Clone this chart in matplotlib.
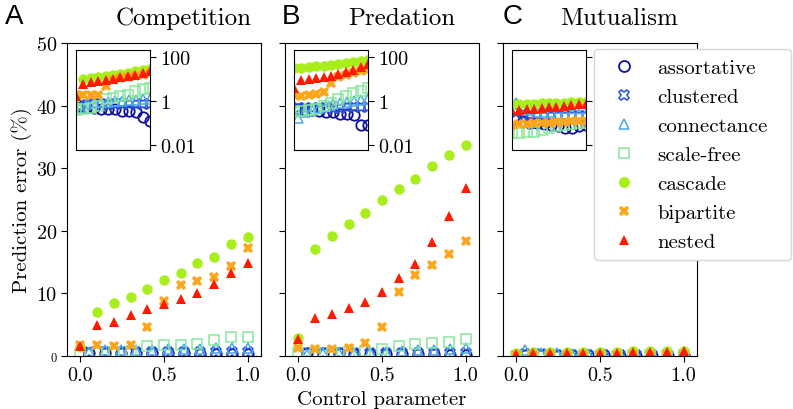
import matplotlib
matplotlib.use('Agg')
import matplotlib.pyplot as plt
from matplotlib.ticker import FixedLocator, FixedFormatter, NullLocator

plt.rcParams['font.family'] = 'cmr10'
plt.rcParams['mathtext.fontset'] = 'cm'
plt.rcParams['axes.formatter.use_mathtext'] = True

# control parameter values
x_grid = [0.0, 0.1, 0.2, 0.3, 0.4, 0.5, 0.6, 0.7, 0.8, 0.9, 1.0]
x_shift = [0.05, 0.145, 0.24, 0.335, 0.43, 0.525, 0.62, 0.715, 0.81, 0.905, 1.0]

panels = ['A', 'B', 'C']
titles = ['Competition', 'Predation', 'Mutualism']
models = ['assortative', 'clustered', 'connectance', 'scale-free',
          'cascade', 'bipartite', 'nested']

# main panels: prediction error (%), one list per panel (A, B, C)
assortative = [[0.5, 0.5, 0.45, 0.45, 0.4, 0.4, 0.4, 0.35, 0.35, 0.3, 0.25],
               [0.45, 0.4, 0.4, 0.35, 0.35, 0.3, 0.3, 0.25, 0.25, 0.1, 0.1],
               [0.15, 0.12, 0.1, 0.1, 0.09, 0.08, 0.07, 0.06, 0.06, 0.07, 0.08]]
clustered = [[0.7, 0.7, 0.7, 0.7, 0.65, 0.7, 0.7, 0.7, 0.7, 0.7, 0.7],
             [0.5, 0.5, 0.5, 0.5, 0.5, 0.5, 0.5, 0.5, 0.5, 0.5, 0.5],
             [0.3, 0.25, 0.22, 0.2, 0.2, 0.2, 0.2, 0.2, 0.2, 0.2, 0.2]]
connectance = [[0.6, 0.9, 0.9, 1.0, 1.0, 1.1, 1.1, 1.1, 1.2, 1.2, 1.3],
               [0.3, 0.4, 0.5, 0.5, 0.6, 0.7, 0.8, 0.9, 1.0, 1.1, 1.2],
               [1.0, 0.5, 0.4, 0.3, 0.3, 0.3, 0.25, 0.25, 0.25, 0.25, 0.25]]
scale_free = [[0.3, 0.5, 0.6, 0.8, 1.6, 1.7, 1.7, 1.9, 2.6, 3.1, 3.1],
              [0.4, 0.5, 0.5, 0.6, 0.8, 1.1, 1.6, 1.9, 2.1, 2.3, 2.7],
              [0.04, 0.04, 0.04, 0.04, 0.05, 0.06, 0.07, 0.08, 0.09, 0.1, 0.1]]
cascade = [[1.5, 7.0, 8.4, 9.4, 10.7, 12.1, 13.3, 14.8, 15.8, 17.9, 19.0],
           [2.8, 17.1, 19.2, 21.1, 22.9, 25.0, 26.7, 28.3, 30.4, 32.1, 33.7],
           [0.55, 0.6, 0.6, 0.65, 0.65, 0.7, 0.7, 0.75, 0.75, 0.8, 0.85]]
bipartite = [[1.7, 1.7, 1.6, 1.7, 4.7, 8.8, 11.3, 12.0, 12.6, 14.4, 17.3],
             [1.3, 1.1, 1.1, 1.3, 2.0, 4.7, 10.2, 12.9, 14.5, 16.3, 18.4],
             [0.1, 0.1, 0.1, 0.1, 0.1, 0.1, 0.11, 0.11, 0.12, 0.12, 0.12]]
nested = [[1.6, 4.9, 5.4, 6.6, 7.5, 8.3, 9.1, 10.0, 11.5, 13.2, 14.9],
          [2.7, 6.0, 6.7, 7.6, 8.6, 10.2, 12.5, 14.7, 18.2, 22.3, 26.8],
          [0.35, 0.4, 0.42, 0.45, 0.5, 0.52, 0.55, 0.6, 0.65, 0.7, 0.75]]

# insets (log scale), read separately
assortative_log = [[0.6, 0.55, 0.5, 0.42, 0.45, 0.42, 0.35, 0.35, 0.33, 0.18, 0.12],
                   [0.42, 0.4, 0.38, 0.36, 0.33, 0.3, 0.26, 0.25, 0.22, 0.08, 0.08],
                   [0.15, 0.12, 0.1, 0.1, 0.09, 0.08, 0.07, 0.06, 0.06, 0.07, 0.08]]
clustered_log = [[0.6, 0.65, 0.7, 0.7, 0.65, 0.7, 0.7, 0.7, 0.7, 0.7, 0.7],
                 [0.5, 0.5, 0.5, 0.5, 0.5, 0.5, 0.5, 0.55, 0.55, 0.55, 0.55],
                 [0.3, 0.25, 0.22, 0.2, 0.2, 0.2, 0.2, 0.2, 0.2, 0.2, 0.2]]
connectance_log = [[0.5, 0.7, 0.8, 0.9, 0.9, 1.0, 1.0, 1.1, 1.1, 1.2, 1.2],
                   [0.17, 0.3, 0.4, 0.5, 0.6, 0.7, 0.8, 0.9, 1.0, 1.1, 1.2],
                   [0.8, 0.5, 0.4, 0.3, 0.3, 0.3, 0.25, 0.25, 0.25, 0.25, 0.25]]
scale_free_log = [[0.4, 0.45, 0.5, 0.6, 1.2, 1.4, 1.6, 1.9, 2.8, 3.5, 4.0],
                  [0.3, 0.35, 0.4, 0.45, 0.6, 0.8, 1.2, 1.7, 2.3, 2.8, 3.8],
                  [0.035, 0.035, 0.04, 0.04, 0.05, 0.06, 0.07, 0.08, 0.09, 0.1, 0.1]]
cascade_log = [[1.5, 9.6, 10.8, 12.0, 13.5, 15.0, 17.0, 19.0, 21.5, 25.0, 28.5],
               [30.0, 32.0, 34.0, 36.0, 38.0, 41.0, 45.0, 50.0, 56.0, 63.0, 72.0],
               [0.7, 0.72, 0.74, 0.75, 0.77, 0.8, 0.8, 0.83, 0.85, 0.88, 0.9]]
bipartite_log = [[1.8, 1.8, 1.8, 1.9, 4.8, 9.0, 11.0, 12.0, 13.0, 15.0, 18.0],
                 [1.8, 1.7, 1.8, 2.1, 2.6, 6.3, 12.0, 15.0, 18.0, 22.0, 26.0],
                 [0.08, 0.09, 0.09, 0.1, 0.1, 0.1, 0.11, 0.11, 0.12, 0.12, 0.12]]
nested_log = [[1.7, 6.0, 6.8, 8.0, 9.0, 10.0, 11.5, 13.0, 15.0, 18.0, 22.0],
              [3.7, 9.0, 10.0, 11.0, 12.5, 14.0, 17.0, 21.0, 26.0, 33.0, 45.0],
              [0.35, 0.4, 0.42, 0.45, 0.5, 0.52, 0.55, 0.6, 0.65, 0.7, 0.75]]

main_data = [assortative, clustered, connectance, scale_free, cascade, bipartite, nested]
log_data = [assortative_log, clustered_log, connectance_log, scale_free_log,
            cascade_log, bipartite_log, nested_log]
xs = [x_shift, x_shift, x_shift, x_grid, x_grid, x_grid, x_grid]

styles = [
    dict(marker='o', mfc='none', mec='#0d0d9e', mew=1.3),
    dict(marker='X', mfc='none', mec='#2a4fd8', mew=1.1),
    dict(marker='^', mfc='none', mec='#4aa6ec', mew=1.1),
    dict(marker='s', mfc='none', mec='#86e89a', mew=1.1),
    dict(marker='o', mfc='#a8ee1c', mec='#a8ee1c', mew=0),
    dict(marker='X', mfc='#ffa51a', mec='#ffa51a', mew=0),
    dict(marker='^', mfc='#ff1a00', mec='#ff1a00', mew=0),
]

fig = plt.figure(figsize=(7.93, 4.10), dpi=100)
W, H = 793.0, 410.0
lefts = [67, 285, 503]
inset_lefts = [76, 294, 512]
letter_x = [5, 282, 503]

for p in range(3):
    ax = fig.add_axes([lefts[p] / W, (H - 357) / H, 194 / W, 313 / H])
    for k in range(7):
        ax.plot(xs[k], main_data[k][p], linestyle='none', markersize=7.5,
                label=models[k], **styles[k])
    ax.set_xlim(-0.08, 1.08)
    ax.set_ylim(0, 50)
    ax.set_xticks([0.0, 0.5, 1.0])
    ax.set_xticklabels(['0.0', '0.5', '1.0'])
    ax.set_yticks([0, 10, 20, 30, 40, 50])
    ax.tick_params(labelsize=14.5, direction='out', length=4)
    if p == 0:
        ax.set_yticklabels(['0', '10', '20', '30', '40', '50'])
        ax.get_yticklabels()[0].set_fontsize(9)
    else:
        ax.set_yticklabels([])
    if p == 1:
        ax.set_xlabel('Control parameter', fontsize=15, labelpad=4)
    ax.set_title(titles[p], fontsize=18, x=0.6, pad=14)
    fig.text(letter_x[p] / W, 1 - 4 / H, panels[p], fontsize=20,
             family='Liberation Sans', va='top', ha='left')

    ins = fig.add_axes([inset_lefts[p] / W, (H - 151) / H, 74 / W, 100 / H])
    for k in range(7):
        ins.plot(xs[k], log_data[k][p], linestyle='none', markersize=7.5, **styles[k])
    ins.set_yscale('log')
    ins.set_xlim(0, 1)
    ins.set_ylim(0.006, 200)
    ins.xaxis.set_major_locator(NullLocator())
    ins.yaxis.set_major_locator(FixedLocator([0.01, 1, 100]))
    ins.yaxis.set_major_formatter(FixedFormatter(['0.01', '1', '100']))
    ins.yaxis.set_minor_locator(NullLocator())
    ins.yaxis.tick_right()
    ins.tick_params(labelsize=14.5, direction='out', length=4)
    if p == 2:
        handles, labels = ax.get_legend_handles_labels()
        leg = ins.legend(handles, labels, loc='upper left', mode='expand',
                         bbox_to_anchor=(594 / W, 1 - 50 / H, 197 / W, 0),
                         bbox_transform=fig.transFigure, borderaxespad=0,
                         fontsize=15, handletextpad=0.6, borderpad=0.45,
                         labelspacing=0.5, markerscale=1.05, framealpha=1,
                         edgecolor='#d6d6d6')
        leg.set_zorder(20)

fig.text(22 / W, (H - 200) / H, 'Prediction error (%)', rotation=90,
         fontsize=15, ha='center', va='center')

plt.savefig('out.png', dpi=100)
